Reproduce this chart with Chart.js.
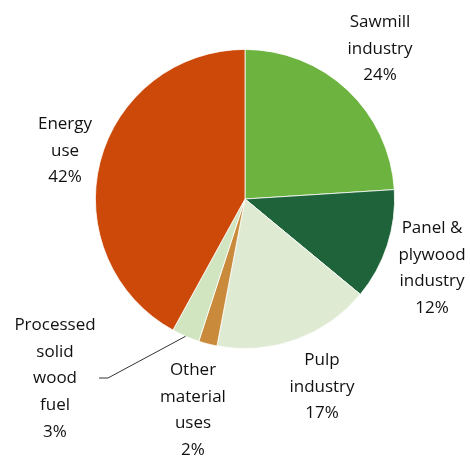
<!DOCTYPE html>
<html>
<head>
<meta charset="utf-8">
<script src="https://cdn.jsdelivr.net/npm/chart.js@4"></script>
<style>
    html, body { margin: 0; padding: 0; background: #ffffff; }
    #wrap { width: 470px; height: 456px; }
</style>
</head>
<body>
<div id="wrap"><canvas id="myChart" width="470" height="456"></canvas></div>
<script>
const categories = ['Sawmill industry', 'Panel & plywood industry', 'Pulp industry', 'Other material uses', 'Processed solid wood fuel', 'Energy use'];
const shares = [24, 12, 17, 2, 3, 42];
const colors = ['#6cb33f', '#1f633a', '#dfead3', '#c98a3c', '#d1e5c1', '#cc4909'];
// label lines (text only) and where each block sits
const labelLines = [
    ['Sawmill', 'industry', '24%'],
    ['Panel &', 'plywood', 'industry', '12%'],
    ['Pulp', 'industry', '17%'],
    ['Other', 'material', 'uses', '2%'],
    ['Processed', 'solid', 'wood', 'fuel', '3%'],
    ['Energy', 'use', '42%']
];
const labelPos = [[380, 22], [432, 228], [322, 360], [193, 370], [55, 325], [65, 124]];

const outsideLabels = {
    id: 'outsideLabels',
    afterDraw(chart) {
        const ctx = chart.ctx;
        const arcs = chart.getDatasetMeta(0).data;
        ctx.save();
        ctx.fillStyle = '#111111';
        ctx.font = '17px "Open Sans", sans-serif';
        ctx.textAlign = 'center';
        ctx.textBaseline = 'middle';
        labelLines.forEach((lines, i) => {
            const [x, y] = labelPos[i];
            lines.forEach((t, j) => ctx.fillText(t, x, y + j * 26.7));
        });
        // leader line for the small wood fuel slice
        const a = arcs[4];
        const mid = (a.startAngle + a.endAngle) / 2;
        const ex = a.x + Math.cos(mid) * a.outerRadius;
        const ey = a.y + Math.sin(mid) * a.outerRadius;
        ctx.strokeStyle = '#333333';
        ctx.lineWidth = 1;
        ctx.beginPath();
        ctx.moveTo(99, 378);
        ctx.lineTo(108, 378);
        ctx.lineTo(ex, ey);
        ctx.stroke();
        ctx.restore();
    }
};

new Chart(document.getElementById('myChart').getContext('2d'), {
    type: 'pie',
    data: {
        labels: categories,
        datasets: [{
            data: shares,
            backgroundColor: colors,
            borderColor: '#ffffff',
            borderWidth: 0.8
        }]
    },
    options: {
        responsive: false,
        animation: false,
        layout: { padding: { left: 95, right: 75, top: 49, bottom: 107 } },
        plugins: {
            legend: { display: false },
            tooltip: { enabled: false }
        }
    },
    plugins: [outsideLabels]
});
</script>
</body>
</html>
